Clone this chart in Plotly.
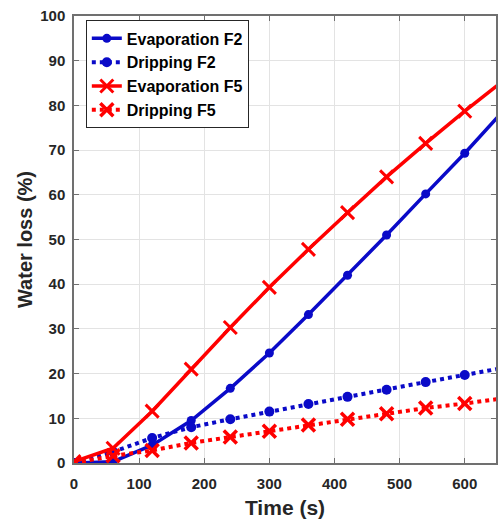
import plotly.graph_objects as go

time_s = [0, 60, 120, 180, 240, 300, 360, 420, 480, 540, 600, 660]
evap_f2 = [0.0, 0.3, 4.0, 9.5, 16.7, 24.6, 33.2, 42.0, 51.0, 60.2, 69.3, 78.9]
drip_f2 = [0.0, 2.5, 5.6, 8.0, 9.8, 11.5, 13.2, 14.8, 16.4, 18.1, 19.7, 21.3]
evap_f5 = [0.3, 3.3, 11.6, 21.0, 30.3, 39.3, 47.8, 56.0, 64.0, 71.5, 78.7, 85.6]
drip_f5 = [0.0, 1.6, 2.8, 4.5, 5.8, 7.1, 8.5, 9.8, 11.0, 12.3, 13.3, 14.5]

names = ["Evaporation F2", "Dripping F2", "Evaporation F5", "Dripping F5"]
x_ticks = [0, 100, 200, 300, 400, 500, 600]
y_ticks = [0, 10, 20, 30, 40, 50, 60, 70, 80, 90, 100]

BLUE = "#0a0ac8"
RED = "#ff0000"
FONT = "Liberation Sans, Arial"

fig = go.Figure()
fig.add_trace(go.Scatter(x=time_s, y=evap_f2, name=names[0], mode="lines+markers",
                         line=dict(color=BLUE, width=3.5),
                         marker=dict(symbol="circle", size=9, color=BLUE)))
fig.add_trace(go.Scatter(x=time_s, y=drip_f2, name=names[1], mode="lines+markers",
                         line=dict(color=BLUE, width=4, dash="dot"),
                         marker=dict(symbol="circle", size=10, color=BLUE)))
fig.add_trace(go.Scatter(x=time_s, y=evap_f5, name=names[2], mode="lines+markers",
                         line=dict(color=RED, width=3.5),
                         marker=dict(symbol="x-thin", size=13, color=RED,
                                     line=dict(color=RED, width=3))))
fig.add_trace(go.Scatter(x=time_s, y=drip_f5, name=names[3], mode="lines+markers",
                         line=dict(color=RED, width=4, dash="dot"),
                         marker=dict(symbol="x-thin", size=13, color=RED,
                                     line=dict(color=RED, width=3.5))))

axis_common = dict(
    showgrid=True, gridcolor="#e3e3e3", gridwidth=1,
    showline=True, linecolor="#707070", linewidth=1.5,
    ticks="inside", ticklen=5, tickcolor="#707070", mirror="ticks",
    zeroline=False,
    tickfont=dict(family=FONT, size=15, color="#262626", weight="bold"),
)

fig.update_layout(
    width=498, height=519,
    margin=dict(l=74, r=0, t=16, b=56),
    paper_bgcolor="white", plot_bgcolor="white",
    showlegend=True,
    legend=dict(x=0.028, y=0.99, xanchor="left", yanchor="top",
                bgcolor="white", bordercolor="#262626", borderwidth=1,
                font=dict(family=FONT, size=16, color="#000000", weight="bold"),
                tracegroupgap=0),
    xaxis=dict(range=[0, 648], tickvals=x_ticks, ticklabelstandoff=6,
               title=dict(text="Time (s)", standoff=11,
                          font=dict(family=FONT, size=21, color="#262626", weight="bold")),
               **axis_common),
    yaxis=dict(range=[0, 100], tickvals=y_ticks, ticklabelstandoff=4,
               title=dict(text="Water loss (%)", standoff=2,
                          font=dict(family=FONT, size=20, color="#262626", weight="bold")),
               **axis_common),
)

fig.write_html("out.html")
